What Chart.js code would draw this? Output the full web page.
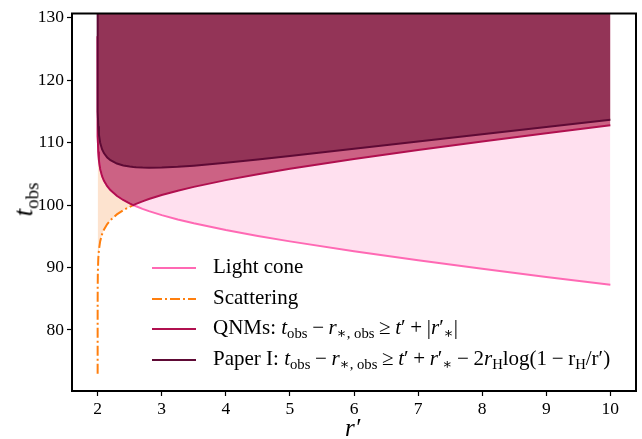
<!DOCTYPE html>
<html>
<head>
<meta charset="utf-8">
<script src="https://cdn.jsdelivr.net/npm/chart.js@4.4.1/dist/chart.umd.min.js"></script>
<style>
  html, body { margin: 0; padding: 0; background: #fff; }
  #wrap { position: relative; width: 642px; height: 439px; font-family: "Liberation Serif", "DejaVu Serif", serif; color: #000; }
  #chart { position: absolute; left: 0; top: 0; }
  #legend { position: absolute; left: 152px; top: 251px; font-size: 21px; }
  .row { height: 30.5px; line-height: 30.5px; white-space: nowrap; }
  .row svg { width: 44px; height: 10px; margin-right: 17px; vertical-align: middle; }
  .sb { font-size: 0.7em; position: relative; top: 0.3em; }
  .op { margin: 0 0.22em; }
  #xtitle { position: absolute; left: 345px; top: 414px; font-size: 25px; font-style: italic; }
  #ytitle { position: absolute; left: 7px; top: 184px; font-size: 27px; transform: rotate(-90deg); transform-origin: center; white-space: nowrap; }
</style>
</head>
<body>
<div id="wrap">
  <canvas id="chart" width="642" height="439"></canvas>
  <div id="legend">
    <div class="row"><svg><line x1="0" y1="5" x2="44" y2="5" stroke="#ff69b4" stroke-width="2"/></svg>Light cone</div>
    <div class="row"><svg><line x1="0" y1="5" x2="44" y2="5" stroke="#ff7f0e" stroke-width="2" stroke-dasharray="10 3 2 3"/></svg>Scattering</div>
    <div class="row"><svg><line x1="0" y1="5" x2="44" y2="5" stroke="#b0104f" stroke-width="2.2"/></svg>QNMs:&nbsp;<i>t</i><span class="sb">obs</span><span class="op">−</span><i>r</i><span class="sb">∗, obs</span><span class="op">≥</span><i>t</i>′<span class="op">+</span>|<i>r</i>′<span class="sb">∗</span>|</div>
    <div class="row"><svg><line x1="0" y1="5" x2="44" y2="5" stroke="#5e0a35" stroke-width="2.2"/></svg>Paper I:&nbsp;<i>t</i><span class="sb">obs</span><span class="op">−</span><i>r</i><span class="sb">∗, obs</span><span class="op">≥</span><i>t</i>′<span class="op">+</span><i>r</i>′<span class="sb">∗</span><span class="op">−</span>2<i>r</i><span class="sb">H</span>log(1<span class="op">−</span>r<span class="sb">H</span>/r′)</div>
  </div>
  <div id="xtitle">r′</div>
  <div id="ytitle"><i>t</i><span class="sb">obs</span></div>
</div>
<script>
// r' sample points (horizon at r' = 2)
const rPrime = [2.000001, 2.00001, 2.0001, 2.001, 2.003, 2.01, 2.02, 2.04, 2.07, 2.1,
  2.15, 2.2, 2.3, 2.4, 2.5, 2.557, 2.6, 2.7, 2.8, 3.0, 3.25, 3.5, 4, 4.5, 5, 6, 7, 8, 9, 10];

const lightCone = [127.02, 122.41, 117.81, 113.20, 111.00, 108.59, 107.19, 105.78, 104.63, 103.89,
  103.03, 102.41, 101.49, 100.82, 100.27, 100.00, 99.81, 99.40, 99.03, 98.39, 97.69, 97.08, 96.00,
  95.05, 94.19, 92.61, 91.17, 89.80, 88.49, 87.23];

const qnm = [127.02, 122.41, 117.81, 113.20, 111.00, 108.59, 107.19, 105.78, 104.63, 103.89,
  103.03, 102.41, 101.49, 100.82, 100.27, 100.00, 100.19, 100.60, 100.97, 101.61, 102.31, 102.92,
  104.00, 104.95, 105.81, 107.39, 108.83, 110.20, 111.51, 112.77];

const paperI = [131.02, 126.41, 121.81, 117.20, 115.01, 112.63, 111.27, 109.94, 108.91, 108.29,
  107.62, 107.19, 106.65, 106.35, 106.17, 106.10, 106.06, 106.00, 105.98, 106.01, 106.13, 106.31,
  106.77, 107.30, 107.85, 109.01, 110.18, 111.35, 112.51, 113.67];

// scattering only up to the crossing point r' = 2.557
const scattering = [72.98, 77.59, 82.19, 86.80, 89.00, 91.41, 92.81, 94.22, 95.37, 96.11,
  96.97, 97.59, 98.51, 99.18, 99.73, 100.00];

const xTicks = [2, 3, 4, 5, 6, 7, 8, 9, 10];
const yTicks = [80, 90, 100, 110, 120, 130];

const pts = (ys) => ys.map((y, i) => ({x: rPrime[i], y: y}));

const frame = {
  id: 'frame',
  afterDraw(chart) {
    const {ctx, chartArea: a} = chart;
    ctx.save();
    ctx.strokeStyle = '#000';
    ctx.lineWidth = 2;
    ctx.strokeRect(a.left, a.top, a.right - a.left, a.bottom - a.top);
    ctx.restore();
  }
};

const tickFont = {family: 'Liberation Serif', size: 17.5};

new Chart(document.getElementById('chart'), {
  type: 'line',
  data: {
    datasets: [
      {label: 'Paper I', data: pts(paperI), borderColor: '#5e0a35', backgroundColor: '#933457', borderWidth: 2, fill: 'end'},
      {label: 'QNMs', data: pts(qnm), borderColor: '#b0104f', backgroundColor: '#cc6284', borderWidth: 2, fill: 'end'},
      {label: 'Light cone', data: pts(lightCone), borderColor: '#ff69b4', backgroundColor: '#ffe0ef', borderWidth: 2, fill: 'end'},
      {label: 'Scattering', data: pts(scattering), borderColor: '#ff7f0e', backgroundColor: '#fde3cf', borderWidth: 2, borderDash: [10, 3, 2, 3], fill: 'end'}
    ]
  },
  options: {
    responsive: false,
    animation: false,
    devicePixelRatio: 1,
    layout: {padding: {left: 0, top: 11, right: 6, bottom: 0}},
    elements: {point: {radius: 0}, line: {tension: 0}},
    plugins: {
      legend: {display: false},
      tooltip: {enabled: false},
      filler: {drawTime: 'beforeDatasetsDraw'}
    },
    scales: {
      x: {
        type: 'linear', min: 1.6, max: 10.4,
        afterFit: (s) => { s.height = 48; },
        afterBuildTicks: (s) => { s.ticks = xTicks.map(v => ({value: v})); },
        grid: {drawOnChartArea: false, drawTicks: true, tickLength: 5, tickColor: '#000', tickWidth: 1.2},
        border: {display: false},
        ticks: {font: tickFont, color: '#000', padding: 3, maxRotation: 0}
      },
      y: {
        type: 'linear', min: 70.23, max: 130.68,
        afterFit: (s) => { s.width = 72; },
        afterBuildTicks: (s) => { s.ticks = yTicks.map(v => ({value: v})); },
        grid: {drawOnChartArea: false, drawTicks: true, tickLength: 5, tickColor: '#000', tickWidth: 1.2},
        border: {display: false},
        ticks: {font: tickFont, color: '#000', padding: 3}
      }
    }
  },
  plugins: [frame]
});
</script>
</body>
</html>
